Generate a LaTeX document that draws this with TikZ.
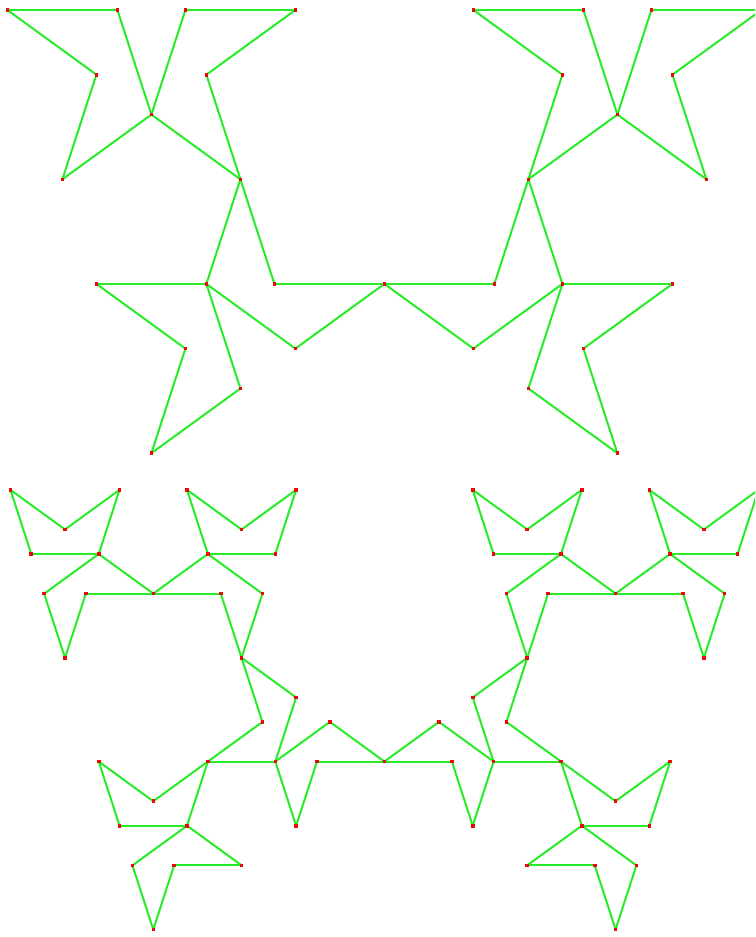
\documentclass[tikz,border=0pt]{standalone}
\usepackage{tikz}

\definecolor{linegreen}{RGB}{40,235,40}
\definecolor{dotred}{RGB}{235,10,10}

% left half of each curve, as x/y in pixel units (y grows downwards);
% the right half is its mirror image about x=384.4
\newcommand{\levelthree}{384.4/283.4, 274.4/283.4, 240.4/178.8, 206.4/74.2,
  295.4/9.5, 185.4/9.5, 151.4/114.1, 117.4/9.5, 7.4/9.5, 96.4/74.2,
  62.4/178.8, 151.4/114.1, 240.4/178.8, 206.4/283.4, 96.4/283.4,
  185.4/348.1, 151.4/452.7, 240.4/388.0, 206.4/283.4, 295.4/348.1,
  384.4/283.4}
\newcommand{\levelfour}{384.4/283.4, 329.4/243.4, 274.4/283.4, 295.4/218.8,
  240.4/178.8, 261.4/114.2, 206.4/74.2, 274.4/74.2, 295.4/9.5, 240.4/49.5,
  185.4/9.5, 206.4/74.2, 151.4/114.1, 96.4/74.2, 117.4/9.5, 62.4/49.5,
  7.4/9.5, 28.4/74.2, 96.4/74.2, 41.4/114.2, 62.4/178.8, 83.4/114.1,
  151.4/114.1, 219.4/114.1, 240.4/178.8, 261.4/243.5, 206.4/283.4,
  151.4/323.4, 96.4/283.4, 117.4/348.1, 185.4/348.1, 130.4/388.1,
  151.4/452.7, 172.4/388.0, 240.4/388.0, 185.4/348.1, 206.4/283.4,
  274.4/283.4, 295.4/348.1, 316.4/283.4, 384.4/283.4}

\tikzset{
  curve/.style={draw=linegreen, line width=1pt, line cap=round, line join=round},
  mirrored/.style={shift={(768.8,0)}, xscale=-1}
}

% segments of one half, from point to point
\newcommand{\drawhalf}[1]{%
  \foreach \x/\y [remember=\x as \px (initially 384.4),
                  remember=\y as \py (initially 283.4)] in #1
    \draw[curve] (\px,\py) -- (\x,\y);
}
% small red squares on the vertices
\newcommand{\drawdots}[1]{%
  \foreach \x/\y in #1
    \fill[dotred] (\x,\y) +(-1.8,-1.8) rectangle +(1.8,1.8);
}

\begin{document}
\begin{tikzpicture}[x=0.5pt,y=-0.5pt]
  \clip (0,0) rectangle (755,937);
  % upper curve
  \begin{scope}[shift={(0,0.5)}]
    \drawhalf{\levelthree}
    \begin{scope}[mirrored]
      \drawhalf{\levelthree}
    \end{scope}
    \drawdots{\levelthree}
    \begin{scope}[mirrored]
      \drawdots{\levelthree}
    \end{scope}
  \end{scope}
  % lower curve, one step further
  \begin{scope}[shift={(3.1,480.4)},scale=0.992]
    \drawhalf{\levelfour}
    \begin{scope}[mirrored]
      \drawhalf{\levelfour}
    \end{scope}
    \drawdots{\levelfour}
    \begin{scope}[mirrored]
      \drawdots{\levelfour}
    \end{scope}
  \end{scope}
\end{tikzpicture}
\end{document}
